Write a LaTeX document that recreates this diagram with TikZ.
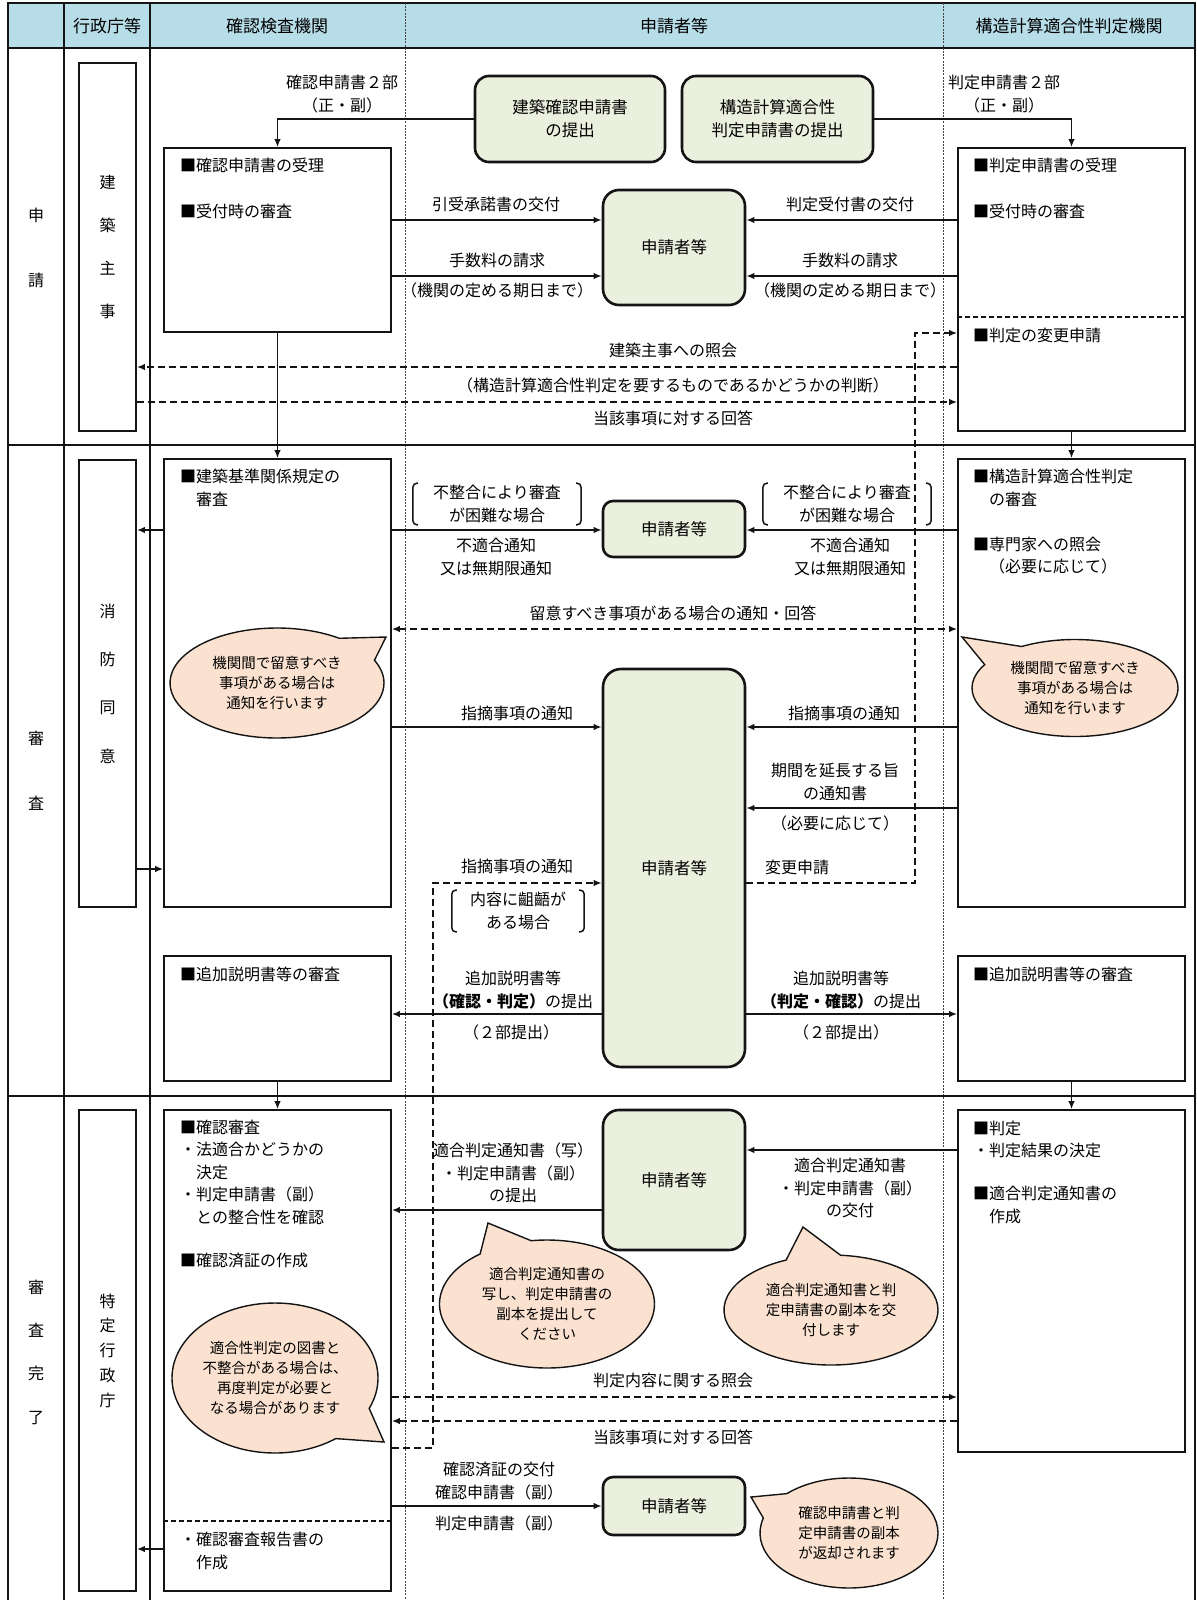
\documentclass[tikz,border=0pt]{standalone}
\usepackage{fontspec}
\setmainfont{Noto Sans CJK JP}
\usepackage{tikz}
\usetikzlibrary{arrows.meta,calc,shapes.callouts}
\definecolor{chead}{RGB}{183,221,232}
\definecolor{cgreen}{RGB}{235,240,222}
\definecolor{cpeach}{RGB}{251,226,208}
\definecolor{cline}{RGB}{20,20,20}

\begin{document}
\begin{tikzpicture}[
    x=1pt, y=-1pt,
    >={Latex[length=8pt,width=6.5pt]},
    rule/.style={draw=cline, line width=1.8pt},
    lane/.style={draw=cline!80, line width=0.8pt, dash pattern=on 2pt off 1.2pt},
    hdr/.style={font=\fontsize{17}{20}\selectfont, inner sep=0pt},
    rowlbl/.style={font=\fontsize{16}{#1}\selectfont, align=center, inner sep=0pt},
    pillar/.style={draw=cline, line width=1.8pt, minimum width=57pt, align=center,
        inner sep=0pt, font=\fontsize{16}{#1}\selectfont},
    block/.style={draw=cline, line width=1.6pt, minimum width=227pt, inner sep=0pt},
    agent/.style={draw=cline, fill=cgreen, line width=2.6pt, rounded corners=#1,
        minimum width=142pt, inner sep=0pt, align=center, font=\fontsize{16.5}{23}\selectfont},
    agent/.default=12pt,
    entry/.style={anchor=west, align=left, inner sep=0pt, font=\fontsize{16}{22.5}\selectfont},
    lbl/.style={align=center, inner sep=0pt, font=\fontsize{16}{22.5}\selectfont},
    brlbl/.style={lbl, inner xsep=20pt, inner ysep=2pt},
    brk/.style={draw=cline, line width=1.5pt, rounded corners=4pt},
    bubble/.style={ellipse callout, draw=cline, line width=1.4pt, fill=cpeach,
        callout pointer arc=30, inner sep=0pt, align=center, font=\fontsize{14.5}{20}\selectfont},
    arr/.style={->, draw=cline, line width=1.6pt},
    bold arr/.style={->, draw=cline, line width=2.6pt},
    darr/.style={->, draw=cline, line width=1.8pt, dash pattern=on 7pt off 4pt}
]
\useasboundingbox (0,0) rectangle (1196,1600);

% Header and lanes
\fill[chead] (8,3) rectangle (1195,48);
\node[hdr] (h-gyosei) at (107,26) {行政庁等};
\node[hdr] (h-kakunin) at (277,26) {確認検査機関};
\node[hdr] (h-shinsei) at (674,26) {申請者等};
\node[hdr] (h-hantei) at (1069,26) {構造計算適合性判定機関};

\draw[rule] (8,1600) -- (8,3) -- (1195,3) -- (1195,1600);
\draw[rule] (8,48) -- (1195,48);
\draw[rule] (64,3) -- (64,1600);
\draw[rule] (150,3) -- (150,1600);
\draw[lane] (405,3) -- (405,1600);
\draw[lane] (943,3) -- (943,1600);
\draw[rule, line width=2.6pt] (8,445) -- (1195,445);
\draw[rule] (8,1096) -- (1195,1096);

\node[rowlbl=65] (r-shinsei) at (36,247.5) {申\\請};
\node[rowlbl=65] (r-shinsa) at (36,770.5) {審\\査};
\node[rowlbl=43.3] (r-kanryo) at (36,1352) {審\\査\\完\\了};

% Column 1: administrative bodies
\node[pillar=43.3, minimum height=368pt] (kenchiku) at (107.5,247) {建\\築\\主\\事};
\node[pillar=48.3, minimum height=447pt] (shobo) at (107.5,683.5) {消\\防\\同\\意};
\node[pillar=24.75, minimum height=481pt] (tokutei) at (107.5,1350.5) {特\\定\\行\\政\\庁};

% Column 2: inspection body
\node[block, minimum height=184pt] (ukeA) at (277.5,240) {};
\node[block, minimum height=448pt] (shinsaA) at (277.5,683) {};
\node[block, minimum height=125pt] (tsuikaA) at (277.5,1018.5) {};
\node[block, minimum height=481pt] (kakuninA) at (277.5,1350.5) {};
\draw[cline, line width=1.5pt, dash pattern=on 5pt off 3pt] (kakuninA.west |- 0,1521) -- (kakuninA.east |- 0,1521);

\node[entry] (t-ukeA) at (180,188) {■確認申請書の受理\\[23.5pt]■受付時の審査};
\node[entry] (t-shinsaA) at (180,488) {■建築基準関係規定の\\\hphantom{■}審査};
\node[entry] (t-tsuikaA) at (180,974) {■追加説明書等の審査};
\node[entry] (t-kakuninA) at (180,1193.5) {■確認審査\\・法適合かどうかの\\\hphantom{・}決定\\・判定申請書（副）\\\hphantom{・}との整合性を確認\\[20.5pt]■確認済証の作成};
\node[entry] (t-hokokuA) at (180,1551) {・確認審査報告書の\\\hphantom{・}作成};

% Column 4: structural calculation body
\node[block, minimum height=283pt] (ukeB) at (1071.5,289.5) {};
\draw[cline, line width=1.5pt, dash pattern=on 5pt off 3pt] (ukeB.west |- 0,317) -- (ukeB.east |- 0,317);
\node[block, minimum height=448pt] (shinsaB) at (1071.5,683) {};
\node[block, minimum height=125pt] (tsuikaB) at (1071.5,1018.5) {};
\node[block, minimum height=342pt] (hanteiB) at (1071.5,1281) {};

\node[entry] (t-ukeB) at (973,188) {■判定申請書の受理\\[23.5pt]■受付時の審査};
\node[entry] (t-henkoB) at (973,335) {■判定の変更申請};
\node[entry] (t-shinsaB) at (973,522) {■構造計算適合性判定\\\hphantom{■}の審査\\[22.5pt]■専門家への照会\\\hphantom{■}（必要に応じて）};
\node[entry] (t-tsuikaB) at (973,974) {■追加説明書等の審査};
\node[entry] (t-hanteiB) at (973,1172) {■判定\\・判定結果の決定\\[20.5pt]■適合判定通知書の\\\hphantom{■}作成};

% Column 3: applicant
\node[agent=14pt, minimum width=190pt, minimum height=86pt] (teishutsuA) at (570,119) {建築確認申請書\\の提出};
\node[agent=14pt, minimum width=191pt, minimum height=86pt] (teishutsuB) at (777.5,119) {構造計算適合性\\判定申請書の提出};
\node[agent=16pt, minimum height=115pt] (appA) at (674,247.5) {申請者等};
\node[agent=10pt, minimum height=56pt] (appB) at (674,529) {申請者等};
\node[agent=18pt, minimum height=398pt] (appC) at (674,868) {申請者等};
\node[agent=16pt, minimum height=140pt] (appD) at (674,1180) {申請者等};
\node[agent=10pt, minimum height=58pt] (appE) at (674,1506) {申請者等};

% Submission
\draw[arr] (teishutsuA.west) -| (ukeA.north);
\node[lbl] (l-bu2A) at (342,94) {確認申請書２部\\（正・副）};
\draw[arr] (teishutsuB.east) -| (ukeB.north);
\node[lbl] (l-bu2B) at (1004,94) {判定申請書２部\\（正・副）};

\draw[arr] (ukeA.east |- 0,220) -- (appA.west |- 0,220);
\node[lbl] (l-hikiuke) at (496,204) {引受承諾書の交付};
\draw[arr] (ukeA.east |- 0,276) -- (appA.west |- 0,276);
\node[lbl] (l-tesuA) at (497,260) {手数料の請求};
\node[lbl] (l-kijitsuA) at (497,290) {（機関の定める期日まで）};
\draw[arr] (ukeB.west |- 0,220) -- (appA.east |- 0,220);
\node[lbl] (l-uketsuke) at (850,204) {判定受付書の交付};
\draw[arr] (ukeB.west |- 0,276) -- (appA.east |- 0,276);
\node[lbl] (l-tesuB) at (850,260) {手数料の請求};
\node[lbl] (l-kijitsuB) at (850,290) {（機関の定める期日まで）};

\draw[darr] (ukeB.west |- 0,367) -- (kenchiku.east |- 0,367);
\node[lbl] (l-shokaiA) at (673,350) {建築主事への照会};
\node[lbl] (l-handan) at (673,385) {（構造計算適合性判定を要するものであるかどうかの判断）};
\draw[darr] (kenchiku.east |- 0,402) -- (ukeB.west |- 0,402);
\node[lbl] (l-kaitoA) at (673,418) {当該事項に対する回答};

% Review
\draw[arr] (ukeA.south) -- (shinsaA.north);
\draw[arr] (ukeB.south) -- (shinsaB.north);
\draw[arr] (tsuikaA.south) -- (kakuninA.north);
\draw[arr] (tsuikaB.south) -- (hanteiB.north);

\draw[arr] (shinsaA.west |- 0,530) -- (shobo.east |- 0,530);
\draw[arr] (shobo.east |- 0,869) -- (shinsaA.west |- 0,869);

\draw[arr] (shinsaA.east |- 0,530) -- (appB.west |- 0,530);
\node[brlbl] (l-konnanA) at (497,504) {不整合により審査\\が困難な場合};
\node[lbl] (l-futekiA) at (496,557) {不適合通知\\又は無期限通知};
\draw[arr] (shinsaB.west |- 0,530) -- (appB.east |- 0,530);
\node[brlbl] (l-konnanB) at (847,504) {不整合により審査\\が困難な場合};
\node[lbl] (l-futekiB) at (850,557) {不適合通知\\又は無期限通知};

\draw[darr, <->] (shinsaA.east |- 0,629) -- (shinsaB.west |- 0,629);
\node[lbl] (l-ryui) at (673,613) {留意すべき事項がある場合の通知・回答};

\draw[arr] (shinsaA.east |- 0,727) -- (appC.west |- 0,727);
\node[lbl] (l-shitekiA) at (517,713) {指摘事項の通知};
\draw[arr] (shinsaB.west |- 0,727) -- (appC.east |- 0,727);
\node[lbl] (l-shitekiB) at (844,713) {指摘事項の通知};
\draw[arr] (shinsaB.west |- 0,808) -- (appC.east |- 0,808);
\node[lbl] (l-enchou) at (835,782) {期間を延長する旨\\の通知書};
\node[lbl] (l-hitsuyo) at (835,823) {（必要に応じて）};

\coordinate (henko) at (915,333);
\draw[darr] (appC.east |- 0,883) -| (henko) -- (ukeB.west |- henko);
\node[lbl] (l-henko) at (797,867) {変更申請};

\coordinate (sogo) at (433,883);
\draw[darr] (kakuninA.east |- 0,1448) -| (sogo) -- (appC.west |- sogo);
\node[lbl] (l-shitekiC) at (517,866) {指摘事項の通知};
\node[brlbl, inner xsep=18pt] (l-sogo) at (518,911) {内容に齟齬が\\ある場合};

\foreach \b in {l-konnanA,l-konnanB,l-sogo} {
    \draw[brk] ([xshift=5pt]\b.north west) -- (\b.north west) -- (\b.south west) -- ([xshift=5pt]\b.south west);
    \draw[brk] ([xshift=-5pt]\b.north east) -- (\b.north east) -- (\b.south east) -- ([xshift=-5pt]\b.south east);
}

\draw[bold arr] (appC.west |- 0,1014) -- (tsuikaA.east |- 0,1014);
\node[lbl] (l-tsuikaA) at (513,990) {追加説明書等\\{\bfseries（確認・判定）}の提出};
\node[lbl] (l-nibuA) at (511,1032) {（２部提出）};
\draw[bold arr] (appC.east |- 0,1014) -- (tsuikaB.west |- 0,1014);
\node[lbl] (l-tsuikaB) at (841,990) {追加説明書等\\{\bfseries（判定・確認）}の提出};
\node[lbl] (l-nibuB) at (841,1032) {（２部提出）};

% Completion
\draw[arr] (hanteiB.west |- 0,1150) -- (appD.east |- 0,1150);
\node[lbl] (l-kofu) at (850,1188) {適合判定通知書\\・判定申請書（副）\\の交付};
\draw[bold arr] (appD.west |- 0,1210) -- (kakuninA.east |- 0,1210);
\node[lbl] (l-teishutsu) at (513,1173) {適合判定通知書（写）\\・判定申請書（副）\\の提出};

\draw[darr] (kakuninA.east |- 0,1397) -- (hanteiB.west |- 0,1397);
\node[lbl] (l-shokaiB) at (673,1380) {判定内容に関する照会};
\draw[darr] (hanteiB.west |- 0,1421) -- (kakuninA.east |- 0,1421);
\node[lbl] (l-kaitoB) at (673,1437) {当該事項に対する回答};

\draw[arr] (kakuninA.east |- 0,1506) -- (appE.west);
\node[lbl] (l-sumisho) at (499,1481) {確認済証の交付\\確認申請書（副）};
\node[lbl] (l-hantei2) at (499,1523) {判定申請書（副）};
\draw[arr] (kakuninA.west |- 0,1549) -- (tokutei.east |- 0,1549);

% Speech bubbles
\node[bubble, minimum width=214pt, minimum height=110pt, callout absolute pointer={(386,637)}] (b-ryuiA) at (277,683) {機関間で留意すべき\\事項がある場合は\\通知を行います};
\node[bubble, minimum width=206pt, minimum height=97pt, callout absolute pointer={(962,637)}] (b-ryuiB) at (1075,688) {機関間で留意すべき\\事項がある場合は\\通知を行います};
\node[bubble, minimum width=206pt, minimum height=150pt, callout absolute pointer={(384,1442)}] (b-saido) at (275,1378) {適合性判定の図書と\\不整合がある場合は、\\再度判定が必要と\\なる場合があります};
\node[bubble, minimum width=215pt, minimum height=128pt, callout absolute pointer={(488,1223)}] (b-utsushi) at (547,1304) {適合判定通知書の\\写し、判定申請書の\\副本を提出して\\ください};
\node[bubble, minimum width=214pt, minimum height=110pt, callout absolute pointer={(803,1227)}] (b-fukuhon) at (831,1310) {適合判定通知書と判\\定申請書の副本を交\\付します};
\node[bubble, minimum width=178pt, minimum height=110pt, callout absolute pointer={(751,1497)}] (b-henkyaku) at (849,1533) {確認申請書と判\\定申請書の副本\\が返却されます};

\end{tikzpicture}
\end{document}
